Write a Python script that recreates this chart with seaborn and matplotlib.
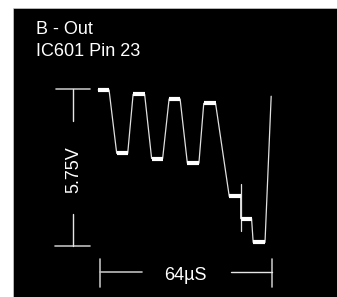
import numpy as np
import pandas as pd
import matplotlib
matplotlib.use("Agg")
import matplotlib.pyplot as plt
import seaborn as sns

# scope trace, time in µs, level in volts
plateau_start = [-0.7, 6.2, 12.3, 19.2, 25.7, 32.5, 38.6, 48.1, 52.35, 57.0]
plateau_end = [3.35, 10.3, 16.6, 23.3, 29.8, 36.8, 43.0, 52.35, 56.4, 61.4]
plateau_level = [5.70, 3.38, 5.54, 3.19, 5.37, 3.02, 5.21, 1.80, 0.99, 0.12]
retrace_t = [63.7]
retrace_v = [5.47]
glitch_t = [52.35, 52.35]
glitch_v = [2.24, 0.52]

title_lines = ["B - Out", "IC601 Pin 23"]
volt_label = "5.75V"
volt_span = 5.75
time_label = "64\u00b5S"
time_span = 64

sns.set_style("white")
plt.rcParams["font.family"] = ["Liberation Sans", "DejaVu Sans"]

t, v = [], []
for s, e, lv in zip(plateau_start, plateau_end, plateau_level):
    t += [s, e]
    v += [lv, lv]
t += retrace_t
v += retrace_v
trace = pd.DataFrame({"t": t, "v": v})

fig = plt.figure(figsize=(3.37, 2.97), dpi=100, facecolor="white")
ax = fig.add_axes([13 / 337, 0, 324 / 337, 289 / 297])
ax.set_facecolor("black")
ax.set_xlim(-32.4, 88.2)
ax.set_ylim(-1.88, 8.70)
ax.set_xticks([])
ax.set_yticks([])
for side in ["right", "bottom"]:
    ax.spines[side].set_visible(False)
for side in ["top", "left"]:
    ax.spines[side].set_color("#d8d8d8")
    ax.spines[side].set_linewidth(0.6)

sns.lineplot(data=trace, x="t", y="v", sort=False, estimator=None,
             color="#e0e0e0", linewidth=0.9, ax=ax)
ax.plot(glitch_t, glitch_v, color="#e0e0e0", linewidth=0.9)
ax.hlines(plateau_level, plateau_start, plateau_end, color="white", linewidth=3.0)
ax.set_xlabel("")
ax.set_ylabel("")

# voltage scale bar
sc = "#bdbdbd"
bx = -10
ax.plot([bx - 6.3, bx + 6.3], [volt_span, volt_span], color=sc, lw=1.2)
ax.plot([bx - 6.8, bx + 6.3], [0, 0], color=sc, lw=1.2)
ax.plot([bx, bx], [volt_span, 4.55], color="#e6e6e6", lw=1.0)
ax.plot([bx, bx], [1.17, 0], color="#e6e6e6", lw=1.0)
ax.text(-8.1, volt_span / 2 - 0.1, volt_label, rotation=90, rotation_mode="anchor",
        ha="center", va="baseline", color="white", fontsize=13)

# time scale bar
by = -0.97
ax.plot([0, 0], [by + 0.48, by - 0.56], color=sc, lw=1.2)
ax.plot([time_span, time_span], [by + 0.48, by - 0.56], color=sc, lw=1.2)
ax.plot([0, 15.6], [by, by], color=sc, lw=1.2)
ax.plot([48.7, time_span], [by, by], color="#e6e6e6", lw=1.0)
ax.text(31.6, -1.27, time_label, ha="center", va="baseline",
        color="white", fontsize=13)

ax.text(-23.8, 7.75, title_lines[0], ha="left", va="baseline", color="white", fontsize=13)
ax.text(-23.8, 6.94, title_lines[1], ha="left", va="baseline", color="white", fontsize=13)

fig.savefig("out.png", dpi=100, facecolor="white")
